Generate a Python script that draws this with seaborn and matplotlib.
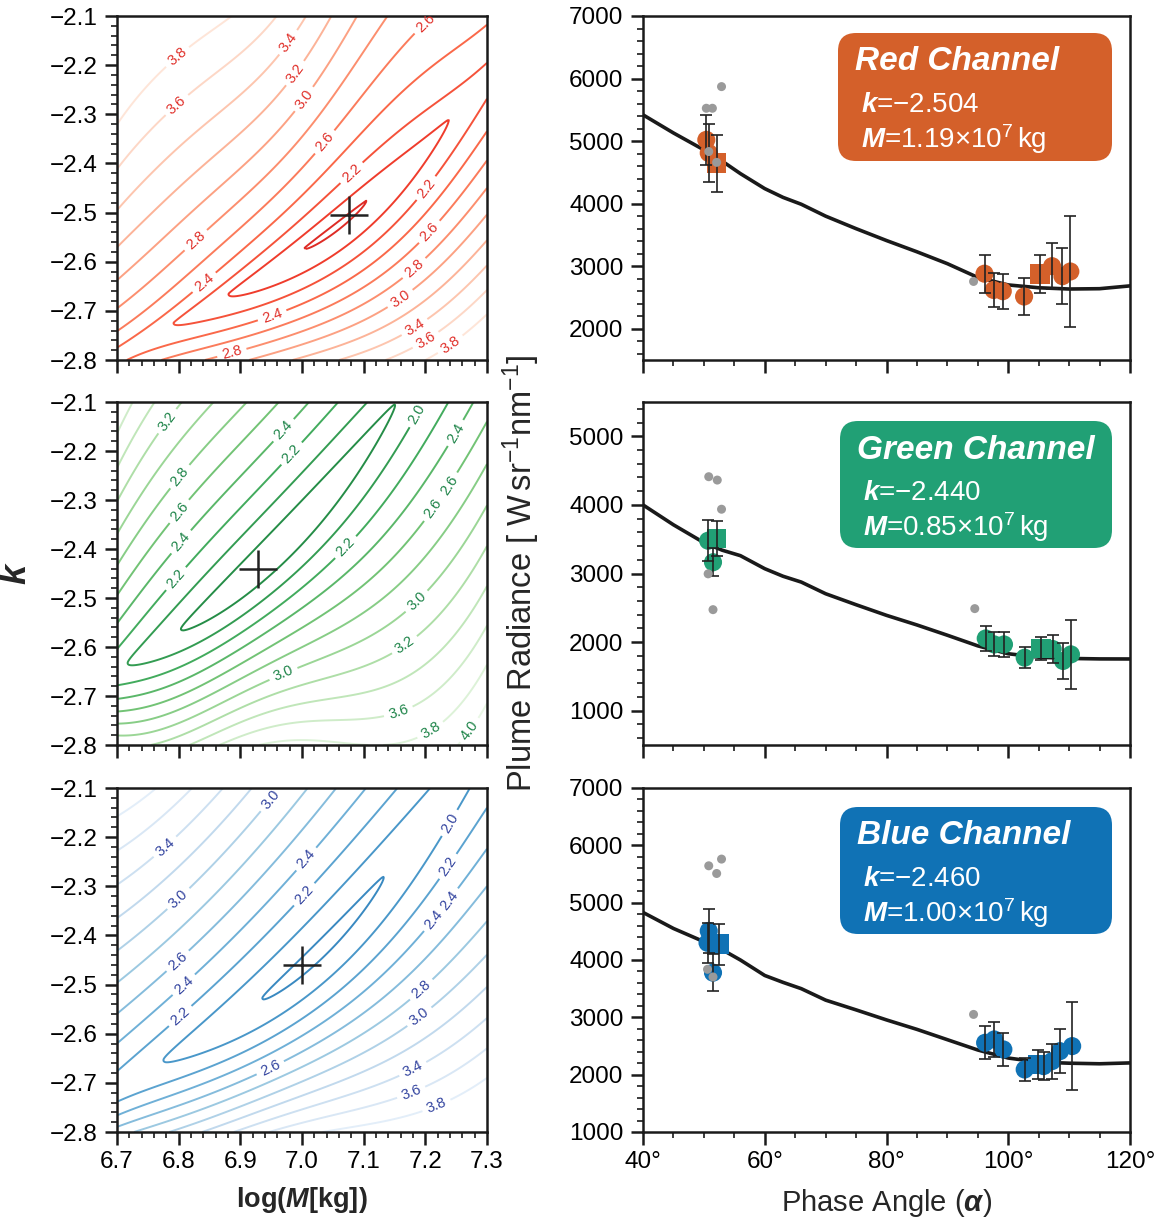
import numpy as np
import matplotlib
matplotlib.use("Agg")
import matplotlib.pyplot as plt
import seaborn as sns
from matplotlib.patches import FancyBboxPatch
from matplotlib.ticker import MultipleLocator

# ------------------------------------------------------------------ data
channels = ["Red", "Green", "Blue"]
channel_colors = ["#D4602A", "#21A075", "#1072B5"]
best_k = [-2.504, -2.440, -2.460]
best_M = [1.19, 0.85, 1.00]          # in units of 1e7 kg

# fit-quality maps (log10 chi^2), described along the valley of the map:
# valley position, valley floor value, widths and steepness on either side
m_nodes = [6.7, 6.8, 6.9, 7.0, 7.1, 7.2, 7.3]
red_valley_k = [-2.788, -2.72, -2.65, -2.577, -2.48, -2.362, -2.22]
red_floor = [2.32, 2.15, 2.00, 1.80, 1.76, 1.96, 2.10]
red_width_up = [0.25, 0.24, 0.23, 0.22, 0.28, 0.45, 0.60]
red_width_dn = [0.11, 0.125, 0.14, 0.155, 0.19, 0.25, 0.30]
red_power = [0.65, 1.15]

green_valley_k = [-2.645, -2.566, -2.467, -2.343, -2.19, -2.02, -1.84]
green_floor = [2.05, 1.80, 1.68, 1.66, 1.72, 1.88, 2.00]
green_width_up = [0.28, 0.30, 0.30, 0.30, 0.34, 0.40, 0.46]
green_width_dn = [0.13, 0.15, 0.17, 0.215, 0.31, 0.41, 0.46]
green_power = [0.85, 1.1]

blue_valley_k = [-2.71, -2.635, -2.56, -2.46, -2.33, -2.17, -1.99]
blue_floor = [2.10, 1.96, 1.84, 1.76, 1.78, 1.86, 1.95]
blue_width_up = [0.30, 0.285, 0.30, 0.32, 0.36, 0.42, 0.50]
blue_width_dn = [0.12, 0.14, 0.16, 0.19, 0.25, 0.34, 0.42]
blue_power = [0.9, 1.25]

red_levels = [1.8, 2.0, 2.2, 2.4, 2.6, 2.8, 3.0, 3.2, 3.4, 3.6, 3.8]
green_levels = [1.8, 2.0, 2.2, 2.4, 2.6, 2.8, 3.0, 3.2, 3.4, 3.6, 3.8, 4.0]
blue_levels = [1.8, 2.0, 2.2, 2.4, 2.6, 2.8, 3.0, 3.2, 3.4, 3.6, 3.8]

# phase-angle data: coloured points with error bars, squares, grey points
red_circ_alpha = [50.4, 50.8, 96.1, 97.6, 99.1, 102.6, 107.2, 108.9, 110.2]
red_circ_val = [5020, 4810, 2880, 2620, 2600, 2515, 3000, 2840, 2915]
red_circ_err = [400, 470, 306, 272, 282, 300, 365, 444, 884]
red_sq_alpha = [52.1, 105.2]
red_sq_val = [4646, 2879]
red_sq_err = [455, 306]
red_grey_alpha = [52.9, 50.4, 51.4, 50.8, 52.1, 94.3]
red_grey_val = [5871, 5525, 5525, 4833, 4660, 2756]

green_circ_alpha = [50.7, 51.5, 96.3, 97.7, 99.3, 102.7, 107.3, 109.0, 110.3]
green_circ_val = [3478, 3164, 2053, 1966, 1966, 1773, 1899, 1725, 1821]
green_circ_err = [300, 205, 184, 174, 181, 157, 203, 256, 507]
green_sq_alpha = [52.1, 105.4]
green_sq_val = [3512, 1908]
green_sq_err = [260, 169]
green_grey_alpha = [50.8, 52.2, 52.9, 50.7, 51.5, 94.5]
green_grey_val = [4411, 4362, 3937, 2995, 2473, 2488]

blue_circ_alpha = [50.8, 50.6, 51.5, 96.2, 97.7, 99.2, 102.7, 105.8, 107.2, 108.5, 110.5]
blue_circ_val = [4507, 4300, 3779, 2556, 2614, 2440, 2090, 2149, 2236, 2410, 2498]
blue_circ_err = [385, 350, 320, 291, 306, 282, 195, 248, 306, 379, 763]
blue_sq_alpha = [52.5, 104.9]
blue_sq_val = [4274, 2178]
blue_sq_err = [360, 248]
blue_grey_alpha = [50.8, 52.9, 52.1, 50.6, 51.5, 94.3]
blue_grey_val = [5643, 5760, 5509, 3838, 3704, 3051]

# model curves
curve_alpha = [40, 45, 50, 53, 56, 60, 63, 66, 70, 75, 80, 85, 90, 95, 100, 105, 110, 115, 120]
red_curve = [5420, 5130, 4860, 4680, 4480, 4240, 4100, 3990, 3800, 3600, 3410,
             3230, 3040, 2820, 2700, 2655, 2635, 2640, 2685]
green_curve = [4000, 3710, 3450, 3340, 3260, 3070, 2960, 2875, 2705, 2545, 2390,
               2250, 2100, 1945, 1830, 1780, 1762, 1755, 1754]
blue_curve = [4830, 4550, 4320, 4180, 4000, 3730, 3610, 3500, 3300, 3130, 2955,
              2790, 2610, 2430, 2290, 2220, 2200, 2190, 2205]

# --------------------------------------------------------------- styling
sns.set_theme(style="ticks")
plt.rcParams.update({
    "font.family": ["Liberation Sans", "DejaVu Sans"],
    "mathtext.fontset": "custom",
    "mathtext.rm": "Liberation Sans",
    "mathtext.it": "Liberation Sans:italic",
    "mathtext.bf": "Liberation Sans:bold",
    "mathtext.bfit": "Liberation Sans:bold:italic",
    "axes.linewidth": 1.8,
    "axes.edgecolor": "#1a1a1a",
    "xtick.color": "#1a1a1a",
    "ytick.color": "#1a1a1a",
    "xtick.labelcolor": "black",
    "ytick.labelcolor": "black",
    "xtick.direction": "out",
    "ytick.direction": "out",
    "xtick.major.size": 9, "ytick.major.size": 9,
    "xtick.major.width": 1.8, "ytick.major.width": 1.8,
    "xtick.minor.size": 4.5, "ytick.minor.size": 4.5,
    "xtick.minor.width": 1.2, "ytick.minor.width": 1.2,
    "xtick.major.pad": 5, "ytick.major.pad": 5,
    "xtick.labelsize": 17.5, "ytick.labelsize": 17.5,
})

W, H = 1171, 1220
fig = plt.figure(figsize=(W / 100, H / 100), dpi=100)

rows_px = [(16, 360), (402, 745), (788, 1132)]
left_px = (117, 487)
right_px = (643, 1130)


def axes_from_px(x0, x1, y0, y1):
    return fig.add_axes([x0 / W, 1 - y1 / H, (x1 - x0) / W, (y1 - y0) / H])


maps = [
    (red_valley_k, red_floor, red_width_up, red_width_dn, red_power, red_levels, "Reds", "#E0302A", 0.68),
    (green_valley_k, green_floor, green_width_up, green_width_dn, green_power, green_levels, "Greens", "#1E8449", 0.74),
    (blue_valley_k, blue_floor, blue_width_up, blue_width_dn, blue_power, blue_levels, "Blues", "#33449F", 0.66),
]

label_spots = [
    [(6.77, -2.142), (6.797, -2.281), (6.965, -2.142), (6.995, -2.222), (7.016, -2.281),
     (6.832, -2.562), (7.046, -2.366), (7.222, -2.142), (6.84, -2.64), (7.081, -2.42),
     (7.211, -2.46), (7.203, -2.535), (7.186, -2.619), (7.162, -2.68), (7.176, -2.72),
     (7.2, -2.758), (7.25, -2.785), (6.949, -2.70), (6.884, -2.775)],
    [(6.776, -2.134), (6.789, -2.239), (6.795, -2.317), (6.797, -2.378), (6.797, -2.462),
     (6.973, -2.161), (6.995, -2.219), (7.2, -2.134), (7.246, -2.161), (7.23, -2.263),
     (7.227, -2.331), (7.073, -2.399), (7.2, -2.525), (7.178, -2.617), (7.151, -2.712),
     (7.2, -2.753), (7.286, -2.783), (6.973, -2.664)],
    [(6.776, -2.217), (6.792, -2.315), (6.8, -2.454), (6.819, -2.515), (6.811, -2.576),
     (6.96, -2.135), (7.0, -2.237), (7.005, -2.318), (7.246, -2.176), (7.235, -2.258),
     (7.227, -2.318), (7.222, -2.376), (7.197, -2.515), (7.195, -2.573), (7.173, -2.655),
     (7.176, -2.716), (7.22, -2.752), (6.95, -2.673)],
]

phase = [
    (red_circ_alpha, red_circ_val, red_circ_err, red_sq_alpha, red_sq_val, red_sq_err,
     red_grey_alpha, red_grey_val, red_curve, (1500, 7000)),
    (green_circ_alpha, green_circ_val, green_circ_err, green_sq_alpha, green_sq_val, green_sq_err,
     green_grey_alpha, green_grey_val, green_curve, (500, 5500)),
    (blue_circ_alpha, blue_circ_val, blue_circ_err, blue_sq_alpha, blue_sq_val, blue_sq_err,
     blue_grey_alpha, blue_grey_val, blue_curve, (1000, 7000)),
]

boxes_px = [(838, 33, 1112, 161), (840, 421, 1112, 548), (840, 807, 1112, 934)]

mg = np.linspace(6.7, 7.3, 301)
kg = np.linspace(-2.8, -2.1, 351)
MM, KK = np.meshgrid(mg, kg)


def smooth_profile(nodes):
    """smooth curve through the values read at the m nodes"""
    coef = np.polyfit(m_nodes, nodes, 4)
    return np.polyval(coef, MM)


for i in range(3):
    y0, y1 = rows_px[i]
    # ---------------- left: fit map
    axl = axes_from_px(left_px[0], left_px[1], y0, y1)
    vk, fl, su, sd, pw, lev, cmap, lcol, cmax = maps[i]
    kc = smooth_profile(vk)
    floor = smooth_profile(fl)
    wu = smooth_profile(su)
    wd = smooth_profile(sd)
    d = KK - kc
    ad = np.sqrt(d ** 2 + 0.012 ** 2) - 0.012
    Z = floor + np.where(d >= 0, (ad / wu) ** pw[0], (ad / wd) ** pw[1])
    lev = np.array(lev)
    shade = plt.get_cmap(cmap)
    lab_mask = lev >= 1.99
    lev_lab = lev[lab_mask]
    lev_plain = lev[~lab_mask]

    def lev_cols(vals):
        return shade(np.interp(vals, [lev[0], lev[-1]], [cmax, 0.1]))

    if len(lev_plain):
        axl.contour(MM, KK, Z, levels=lev_plain, colors=lev_cols(lev_plain), linewidths=1.4)
    cs = axl.contour(MM, KK, Z, levels=lev_lab, colors=lev_cols(lev_lab), linewidths=1.4)
    axl.clabel(cs, manual=label_spots[i], fmt="%.1f", fontsize=10.5,
               colors=lcol, inline=True, inline_spacing=5)
    axl.plot([np.log10(best_M[i] * 1e7)], [best_k[i]], marker="+", ms=27, mew=1.8,
             color="#222222", zorder=5)
    axl.set_xlim(6.7, 7.3)
    axl.set_ylim(-2.8, -2.1)
    axl.xaxis.set_major_locator(MultipleLocator(0.1))
    axl.xaxis.set_minor_locator(MultipleLocator(0.02))
    axl.yaxis.set_major_locator(MultipleLocator(0.1))
    axl.yaxis.set_minor_locator(MultipleLocator(0.02))
    axl.yaxis.set_major_formatter(plt.FuncFormatter(lambda v, p: f"{v:.1f}".replace("-", "\u2212")))
    axl.xaxis.set_major_formatter(plt.FuncFormatter(lambda v, p: f"{v:.1f}"))
    if i < 2:
        axl.tick_params(labelbottom=False)
    else:
        axl.set_xlabel(r"log($\mathbfit{M}$[kg])", fontsize=19.5, fontweight="bold")
        axl.xaxis.set_label_coords(0.5, -0.155)
    if i == 1:
        axl.set_ylabel(r"$\mathbfit{k}$", fontsize=26)
        axl.yaxis.set_label_coords(-0.225, 0.5)

    # ---------------- right: phase curve
    axr = axes_from_px(right_px[0], right_px[1], y0, y1)
    ca, cv, ce, sa, sv, se, ga, gv, curve, ylim = phase[i]
    col = channel_colors[i]
    sns.lineplot(x=curve_alpha, y=curve, ax=axr, color="#1a1a1a", linewidth=2.6,
                 sort=False, estimator=None, zorder=2)
    sns.scatterplot(x=ca, y=cv, ax=axr, color=col, s=170, marker="o", edgecolor="none",
                    zorder=3, legend=False)
    sns.scatterplot(x=sa, y=sv, ax=axr, color=col, s=200, marker="s", edgecolor="none",
                    zorder=3, legend=False)
    axr.errorbar(ca, cv, yerr=ce, fmt="none", ecolor="#222222", elinewidth=1.2,
                 capsize=4, capthick=1.2, zorder=4)
    axr.errorbar(sa, sv, yerr=se, fmt="none", ecolor="#222222", elinewidth=1.2,
                 capsize=4, capthick=1.2, zorder=4)
    sns.scatterplot(x=ga, y=gv, ax=axr, color="#9a9a9a", s=42, marker="o",
                    edgecolor="none", zorder=5, legend=False)
    axr.set_xlim(40, 120)
    axr.set_ylim(*ylim)
    axr.xaxis.set_major_locator(MultipleLocator(20))
    axr.xaxis.set_minor_locator(MultipleLocator(5))
    axr.yaxis.set_major_locator(MultipleLocator(1000))
    axr.yaxis.set_minor_locator(MultipleLocator(200))
    axr.xaxis.set_major_formatter(plt.FuncFormatter(lambda v, p: f"{v:.0f}\u00b0"))
    axr.set_xlabel("")
    axr.set_ylabel("")
    if i < 2:
        axr.tick_params(labelbottom=False)
    else:
        axr.set_xlabel(r"Phase Angle ($\mathbfit{\alpha}$)", fontsize=21)
        axr.xaxis.set_label_coords(0.5, -0.16)
    if i == 1:
        axr.set_ylabel(r"Plume Radiance [ W$\,$sr$^{-1}$nm$^{-1}$]", fontsize=23.5)
        axr.yaxis.set_label_coords(-0.207, 0.5)

    # ---------------- info box
    bx0, by0, bx1, by1 = boxes_px[i]
    patch = FancyBboxPatch((bx0 / W, 1 - by1 / H), (bx1 - bx0) / W, (by1 - by0) / H,
                           boxstyle=f"round,pad=0,rounding_size={18 / W}",
                           mutation_aspect=W / H, transform=fig.transFigure,
                           facecolor=col, edgecolor="none", zorder=10)
    fig.patches.append(patch)
    fig.text((bx0 + 17) / W, 1 - (by0 + 29) / H, f"{channels[i]} Channel", color="white",
             fontsize=24, fontweight="bold", fontstyle="italic", va="center", ha="left", zorder=11)
    fig.text((bx0 + 23) / W, 1 - (by0 + 72) / H,
             r"$\mathbfit{k}$=" + f"\u2212{abs(best_k[i]):.3f}", color="white",
             fontsize=20, va="center", ha="left", zorder=11)
    fig.text((bx0 + 23) / W, 1 - (by0 + 106) / H,
             r"$\mathbfit{M}$=" + f"{best_M[i]:.2f}" + r"$\times$10$^{7}$$\,$kg", color="white",
             fontsize=20, va="center", ha="left", zorder=11)

fig.savefig("out.png", dpi=100)
